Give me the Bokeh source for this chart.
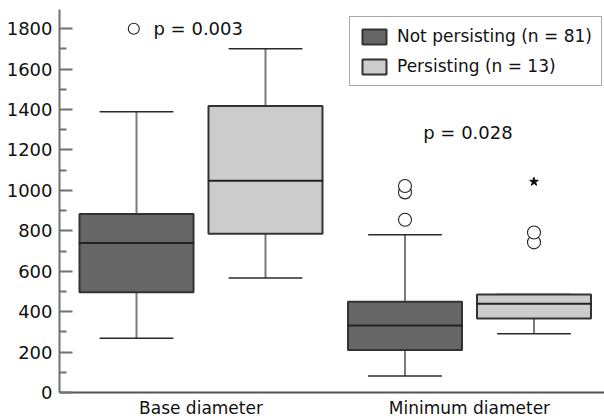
from bokeh.plotting import figure
from bokeh.models import ColumnDataSource, Range1d, FixedTicker, Legend, LegendItem, Label
from bokeh.embed import file_html
from bokeh.resources import INLINE

# ---- data ----
categories = ["Base diameter", "Minimum diameter"]
groups = ["Not persisting (n = 81)", "Persisting (n = 13)"]

np_lower = [269, 82]
np_q1 = [496, 210]
np_median = [740, 332]
np_q3 = [883, 449]
np_upper = [1389, 781]

ps_lower = [567, 291]
ps_q1 = [785, 366]
ps_median = [1048, 439]
ps_q3 = [1418, 485]
ps_upper = [1701, 485]

np_outlier_cat = [1, 1, 1]
np_outlier_val = [855, 990, 1022]
ps_outlier_cat = [1, 1]
ps_outlier_val = [743, 792]
ps_extreme_cat = [1]
ps_extreme_val = [1043]

p_texts = ["p = 0.003", "p = 0.028"]

# ---- style ----
FONT = "DejaVu Sans"
DARK = "#666666"
LIGHT = "#cccccc"
OFFSET = 0.2402
BOX_W = 0.4246
CAP_W = 0.272

p = figure(width=604, height=420, x_range=Range1d(0.473, 2.5028), y_range=Range1d(0, 1895),
           output_backend="svg", toolbar_location=None,
           min_border_left=59, min_border_right=0, min_border_top=9, min_border_bottom=27)
p.outline_line_color = None
p.xgrid.visible = False
p.ygrid.visible = False
p.background_fill_color = "white"
p.border_fill_color = "white"

box_renderers = []
series = [
    (np_lower, np_q1, np_median, np_q3, np_upper, -OFFSET, DARK),
    (ps_lower, ps_q1, ps_median, ps_q3, ps_upper, OFFSET, LIGHT),
]
for lower, q1, med, q3, upper, off, color in series:
    xs = [i + 1 + off for i in range(len(categories))]
    src = ColumnDataSource(dict(x=xs, lower=lower, q1=q1, med=med, q3=q3, upper=upper))
    p.segment(x0="x", y0="q3", x1="x", y1="upper", source=src, line_color="#7a7a7a", line_width=2)
    p.segment(x0="x", y0="lower", x1="x", y1="q1", source=src, line_color="#7a7a7a", line_width=2)
    p.rect(x="x", y="upper", width=CAP_W, height=0.01, source=src, fill_color=None,
           line_color="#2a2a2a", line_width=1.5, height_units="screen")
    p.rect(x="x", y="lower", width=CAP_W, height=0.01, source=src, fill_color=None,
           line_color="#2a2a2a", line_width=1.5, height_units="screen")
    r = p.vbar(x="x", width=BOX_W, bottom="q1", top="q3", source=src, fill_color=color,
               line_color="#333333", line_width=2)
    box_renderers.append(r)
    p.rect(x="x", y="med", width=BOX_W, height=0.01, source=src, fill_color=None,
           line_color="#222222", line_width=2, height_units="screen")

# outliers
p.scatter(x=[c + 1 - OFFSET for c in np_outlier_cat], y=np_outlier_val, marker="circle", size=13,
          fill_color="white", line_color="#222222", line_width=1.1)
p.scatter(x=[c + 1 + OFFSET for c in ps_outlier_cat], y=ps_outlier_val, marker="circle", size=13,
          fill_color="white", line_color="#222222", line_width=1.1)
p.scatter(x=[c + 1 + OFFSET for c in ps_extreme_cat], y=ps_extreme_val, marker="star", size=9,
          fill_color="#111111", line_color="#111111")

# p-value annotations
p.scatter(x=[0.7497], y=[1800], marker="circle", size=11, fill_color="white",
          line_color="#222222", line_width=1.1)
p.add_layout(Label(x=0.823, y=1800, text=p_texts[0], text_baseline="middle",
                   text_font=FONT, text_font_size="18px", text_color="#111111"))
p.add_layout(Label(x=1.8276, y=1284, text=p_texts[1], text_baseline="middle",
                   text_font=FONT, text_font_size="18px", text_color="#111111"))

# axes
ya = p.yaxis[0]
ya.ticker = FixedTicker(ticks=list(range(0, 1801, 200)), minor_ticks=list(range(100, 1801, 200)))
ya.axis_line_color = "#707070"
ya.axis_line_width = 2
ya.major_tick_line_color = "#707070"
ya.major_tick_line_width = 2
ya.major_tick_in = 13
ya.major_tick_out = 0
ya.minor_tick_line_color = "#707070"
ya.minor_tick_line_width = 2
ya.minor_tick_in = 7
ya.minor_tick_out = 0
ya.major_label_standoff = 7
ya.major_label_text_font = FONT
ya.major_label_text_font_size = "18px"
ya.major_label_text_color = "#111111"

xa = p.xaxis[0]
xa.ticker = FixedTicker(ticks=[1, 2])
xa.major_label_overrides = {i + 1: c for i, c in enumerate(categories)}
xa.axis_line_color = "#555555"
xa.axis_line_width = 2
xa.major_tick_line_color = None
xa.minor_tick_line_color = None
xa.major_tick_out = 0
xa.major_tick_in = 0
xa.major_label_standoff = 5
xa.major_label_text_font = FONT
xa.major_label_text_font_size = "17px"
xa.major_label_text_color = "#111111"

legend = Legend(items=[LegendItem(label=g, renderers=[r]) for g, r in zip(groups, box_renderers)],
                location=(290, 306), padding=9, spacing=10, glyph_width=30, glyph_height=19,
                label_height=19, label_standoff=8, margin=0,
                border_line_color="#555555", border_line_width=1.5,
                label_text_font=FONT, label_text_font_size="17px", label_text_color="#111111",
                background_fill_color="white", background_fill_alpha=1)
p.add_layout(legend, "center")

open("out.html", "w").write(file_html(p, INLINE))
